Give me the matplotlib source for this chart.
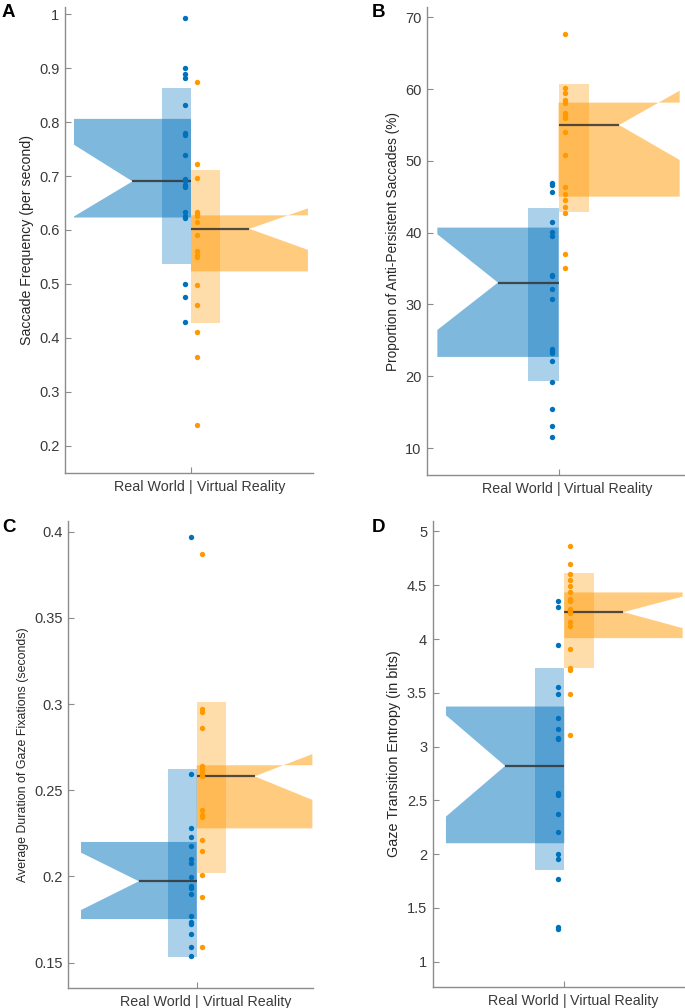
import matplotlib
matplotlib.use("Agg")
import matplotlib.pyplot as plt
import matplotlib.transforms as mtransforms

plt.rcParams['font.family'] = ['Liberation Sans', 'DejaVu Sans']

# --- data ---
# panel A: saccade frequency
a_real = [0.994, 0.900, 0.890, 0.881, 0.832, 0.780, 0.777, 0.739, 0.694, 0.690,
          0.684, 0.679, 0.634, 0.626, 0.622, 0.499, 0.475, 0.430]
a_vr = [0.874, 0.722, 0.696, 0.634, 0.630, 0.626, 0.615, 0.590, 0.561, 0.553,
        0.550, 0.497, 0.461, 0.411, 0.364, 0.238]
# stats: q1, median, q3, notch low, notch high, band low, band high
a_real_stats = [0.623, 0.690, 0.806, 0.625, 0.758, 0.536, 0.864]
a_vr_stats = [0.523, 0.602, 0.627, 0.563, 0.640, 0.428, 0.712]
a_ticks = [0.2, 0.3, 0.4, 0.5, 0.6, 0.7, 0.8, 0.9, 1.0]
a_ticklabels = ['0.2', '0.3', '0.4', '0.5', '0.6', '0.7', '0.8', '0.9', '1']

# panel B: anti-persistent saccades
b_real = [46.88, 46.60, 45.63, 41.49, 40.06, 39.54, 34.11, 33.97, 32.16, 30.77,
          23.80, 23.57, 23.29, 22.09, 19.21, 15.49, 13.08, 11.60]
b_vr = [67.63, 60.11, 59.42, 58.49, 58.12, 56.63, 56.30, 56.03, 53.98, 50.87,
        46.37, 45.44, 44.56, 43.63, 42.79, 37.04, 35.13]
b_real_stats = [22.69, 33.05, 40.71, 26.45, 39.78, 19.40, 43.40]
b_vr_stats = [45.02, 55.00, 58.12, 50.13, 59.79, 42.84, 60.67]
b_ticks = [10, 20, 30, 40, 50, 60, 70]
b_ticklabels = ['10', '20', '30', '40', '50', '60', '70']

# panel C: fixation duration
c_real = [0.3969, 0.2592, 0.2279, 0.2231, 0.2177, 0.2101, 0.2076, 0.1999, 0.1943,
          0.1931, 0.1896, 0.1771, 0.1734, 0.1724, 0.1666, 0.1589, 0.1539]
c_vr = [0.3872, 0.2973, 0.2954, 0.2861, 0.2643, 0.2629, 0.2616, 0.2602, 0.2581,
        0.2386, 0.2358, 0.2347, 0.2212, 0.2150, 0.2007, 0.1879, 0.1591]
c_real_stats = [0.1753, 0.1972, 0.2200, 0.1805, 0.2138, 0.1535, 0.2625]
c_vr_stats = [0.2279, 0.2581, 0.2645, 0.2444, 0.2710, 0.2018, 0.3012]
c_ticks = [0.15, 0.2, 0.25, 0.3, 0.35, 0.4]
c_ticklabels = ['0.15', '0.2', '0.25', '0.3', '0.35', '0.4']

# panel D: transition entropy
d_real = [4.352, 4.296, 3.940, 3.555, 3.490, 3.264, 3.164, 3.081, 3.068, 2.572,
          2.550, 2.377, 2.203, 2.002, 1.955, 1.769, 1.322, 1.307]
d_vr = [4.864, 4.702, 4.600, 4.544, 4.495, 4.436, 4.371, 4.355, 4.281, 4.262,
        4.240, 4.160, 4.122, 3.905, 3.726, 3.713, 3.490, 3.112]
d_real_stats = [2.101, 2.820, 3.372, 2.349, 3.291, 1.853, 3.726]
d_vr_stats = [4.008, 4.250, 4.433, 4.101, 4.395, 3.729, 4.612]
d_ticks = [1, 1.5, 2, 2.5, 3, 3.5, 4, 4.5, 5]
d_ticklabels = ['1', '1.5', '2', '2.5', '3', '3.5', '4', '4.5', '5']

ylabels = ['Saccade Frequency (per second)',
           'Proportion of Anti-Persistent Saccades (%)',
           'Average Duration of Gaze Fixations (seconds)',
           'Gaze Transition Entropy (in bits)']
letters = ['A', 'B', 'C', 'D']

blue = '#0072BD'
orange = '#FF9900'
axis_grey = '#8c8c8c'
text_grey = '#3a3a3a'

W = 1.0   # half-box width
BAND = 0.25
DOT = 0.05

W_PX, H_PX = 685, 1008
fig = plt.figure(figsize=(W_PX / 100, H_PX / 100), dpi=100)


def px_axes(x0, y0, x1, y1):
    return fig.add_axes([x0 / W_PX, 1 - y1 / H_PX, (x1 - x0) / W_PX, (y1 - y0) / H_PX])


def half_box(ax, stats, side, color):
    q1, med, q3, nlo, nhi, blo, bhi = stats
    xs = [0, side * W, side * W, side * W / 2, side * W, side * W, 0]
    ys = [q3, q3, nhi, med, nlo, q1, q1]
    ax.fill(xs, ys, color=color, alpha=0.5, lw=0, zorder=1)
    ax.fill([0, side * BAND, side * BAND, 0], [blo, blo, bhi, bhi],
            color=color, alpha=0.33, lw=0, zorder=2)
    ax.plot([0, side * W / 2], [med, med], color='#333333', alpha=0.85,
            lw=1.6, zorder=3, solid_capstyle='butt')


panels = [
    (a_real, a_vr, a_real_stats, a_vr_stats, a_ticks, a_ticklabels,
     (65, 7.3, 313, 473), (-1.077, 1.043), (0.149, 1.013), 10.2),
    (b_real, b_vr, b_real_stats, b_vr_stats, b_ticks, b_ticklabels,
     (427.3, 7.3, 685, 475), (-1.083, 1.044), (6.24, 71.4), 9.8),
    (c_real, c_vr, c_real_stats, c_vr_stats, c_ticks, c_ticklabels,
     (68.3, 520.7, 313.3, 988.3), (-1.11, 1.008), (0.1351, 0.4064), 8.9),
    (d_real, d_vr, d_real_stats, d_vr_stats, d_ticks, d_ticklabels,
     (432.7, 520.7, 685, 986.7), (-1.112, 1.02), (0.767, 5.10), 10.4),
]
letter_pos = [(2, 4), (372, 4), (2, 519), (372, 519)]

for i, (real, vr, rs, vs, ticks, tlabels, box, xl, yl, lsize) in enumerate(panels):
    ax = px_axes(*box)
    half_box(ax, rs, -1, blue)
    half_box(ax, vs, 1, orange)
    ax.scatter([-DOT] * len(real), real, s=15, color=blue, lw=0, zorder=4)
    ax.scatter([DOT] * len(vr), vr, s=15, color=orange, lw=0, zorder=4)

    ax.set_xlim(*xl)
    ax.set_ylim(*yl)
    ax.set_yticks(ticks)
    ax.set_yticklabels(tlabels)
    ax.set_xticks([0])
    ax.set_xticklabels([''])
    for s in ['top', 'right']:
        ax.spines[s].set_visible(False)
    for s in ['left', 'bottom']:
        ax.spines[s].set_color(axis_grey)
        ax.spines[s].set_linewidth(1.0)
    ax.tick_params(direction='in', length=4, width=0.8, color=axis_grey,
                   labelcolor=text_grey, labelsize=10.5, pad=4)
    ax.set_ylabel(ylabels[i], fontsize=lsize, color='#262626')

    tr = mtransforms.blended_transform_factory(ax.transData, ax.transAxes)
    for txt, ha, dx in [('Real World', 'right', -4.2), ('|', 'center', 0),
                        ('Virtual Reality', 'left', 4.2)]:
        ax.annotate(txt, xy=(0, 0), xycoords=tr, xytext=(dx, -5.0),
                    textcoords='offset points', ha=ha, va='top',
                    fontsize=10.3, color=text_grey)

    lx, ly = letter_pos[i]
    fig.text(lx / W_PX, 1 - ly / H_PX, letters[i], fontsize=13.5,
             fontweight='bold', ha='left', va='top')

fig.savefig('out.png', dpi=100)
